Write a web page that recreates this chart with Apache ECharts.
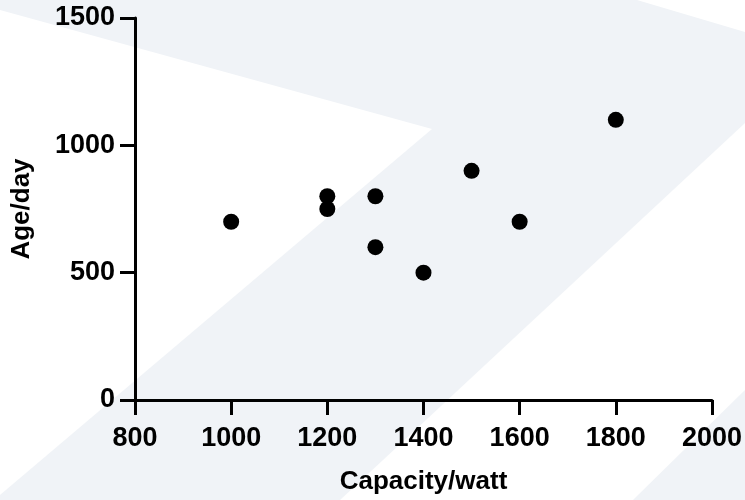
<!DOCTYPE html>
<html>
<head>
<meta charset="utf-8">
<script src="https://cdn.jsdelivr.net/npm/echarts@6/dist/echarts.min.js"></script>
<style>
html,body{margin:0;padding:0;background:#fff;}
#chart{width:745px;height:500px;}
</style>
</head>
<body>
<div id="chart"></div>
<script>
// Data
const capacity = [1000, 1200, 1200, 1300, 1300, 1400, 1500, 1600, 1800];
const ageDays  = [700,  800,  750,  800,  600,  500,  900,  700,  1100];
const xTitle = 'Capacity/watt';
const yTitle = 'Age/day';

const points = capacity.map((c, i) => [c, ageDays[i]]);
const FONT = '"Liberation Sans", Arial, sans-serif';
const LIGHT = '#f0f3f7';

const chart = echarts.init(document.getElementById('chart'), null, {renderer: 'canvas'});
chart.setOption({
  backgroundColor: LIGHT,
  animation: false,
  graphic: [
    {type: 'polygon', z: -10, silent: true, shape: {points: [[0,10],[432,129],[0,495]]}, style: {fill: '#ffffff'}},
    {type: 'polygon', z: -10, silent: true, shape: {points: [[637,0],[745,0],[745,32]]}, style: {fill: '#ffffff'}},
    {type: 'polygon', z: -10, silent: true, shape: {points: [[745,123],[340,500],[633,500],[745,390]]}, style: {fill: '#ffffff'}}
  ],
  grid: {left: 135, right: 33, top: 18, bottom: 100, containLabel: false},
  xAxis: {
    type: 'value', min: 800, max: 2000, interval: 200,
    name: xTitle, nameLocation: 'middle', nameGap: 69,
    nameTextStyle: {color: '#000', fontFamily: FONT, fontWeight: 'bold', fontSize: 26},
    axisLine: {show: true, onZero: false, lineStyle: {color: '#000', width: 3}},
    axisTick: {show: true, length: 15, lineStyle: {color: '#000', width: 3}},
    axisLabel: {color: '#000', fontFamily: FONT, fontWeight: 'bold', fontSize: 27, margin: 25,
                formatter: v => String(v)},
    splitLine: {show: false}
  },
  yAxis: {
    type: 'value', min: 0, max: 1500, interval: 500,
    name: yTitle, nameLocation: 'middle', nameGap: 100, nameRotate: 90,
    nameTextStyle: {color: '#000', fontFamily: FONT, fontWeight: 'bold', fontSize: 26},
    axisLine: {show: true, onZero: false, lineStyle: {color: '#000', width: 3}},
    axisTick: {show: true, length: 15, lineStyle: {color: '#000', width: 3}},
    axisLabel: {color: '#000', fontFamily: FONT, fontWeight: 'bold', fontSize: 27, margin: 20,
                formatter: v => String(v)},
    splitLine: {show: false}
  },
  series: [{
    type: 'scatter',
    data: points,
    symbol: 'circle',
    symbolSize: 16,
    itemStyle: {color: '#000', opacity: 1}
  }]
});
</script>
</body>
</html>
